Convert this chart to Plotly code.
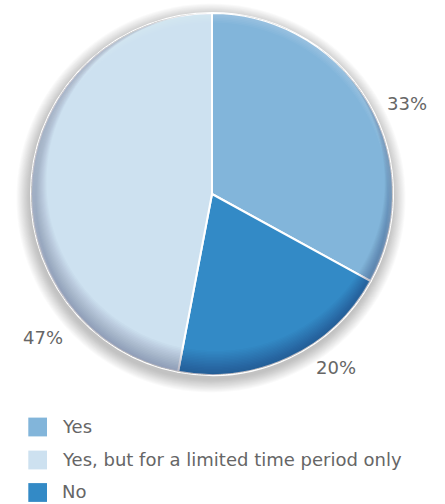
import math
import plotly.graph_objects as go

# ---- Data ----
categories = ["Yes", "No", "Yes, but for a limited time period only"]
values = [33, 20, 47]
colors = ["#82b5da", "#338ac6", "#cde1f0"]
legend_order = ["Yes", "Yes, but for a limited time period only", "No"]
# label placement: angle (deg, clockwise from 12 o'clock) and distance as multiple of radius
label_angles = [65.2, 144.5, 229.6]
label_radius = [1.187, 1.18, 1.227]

# ---- Geometry (pixels) ----
W, H = 445, 504
cx, cy, R = 212, 194, 181
FONT = "DejaVu Sans"
TXT = "#666666"


def px(x):
    return x / W


def py(y):
    return 1 - y / H


def circle_path(x0, y0, r, n=180):
    pts = []
    for i in range(n):
        t = 2 * math.pi * i / n
        pts.append(f"{px(x0 + r * math.cos(t)):.5f},{py(y0 + r * math.sin(t)):.5f}")
    return "M" + " L".join(pts) + " Z"


fig = go.Figure()

# soft drop shadow (below the pie)
for k in range(1, 17):
    r = R + 0.85 * k
    fig.add_shape(type="circle", xref="paper", yref="paper", layer="below",
                  x0=px(cx - 1 - r), x1=px(cx - 1 + r), y0=py(cy + 4 + r), y1=py(cy + 4 - r),
                  fillcolor="rgba(40,40,40,0.02)", line=dict(width=0))

fig.add_trace(go.Pie(
    labels=categories, values=values, sort=False, direction="clockwise",
    rotation=0, marker=dict(colors=colors, line=dict(color="white", width=2)),
    textinfo="none", hoverinfo="label+percent", showlegend=False,
    domain=dict(x=[px(cx - R), px(cx + R)], y=[py(cy + R), py(cy - R)]),
))

# inner rim shading (darker toward bottom-left, lighter at top)
outer = circle_path(cx, cy, R)
for k in range(1, 17):
    d = 0.75 * k
    inner = circle_path(cx + 0.3 * d, cy - d, R - d)
    fig.add_shape(type="path", xref="paper", yref="paper", layer="above",
                  path=outer + " " + inner, fillrule="evenodd",
                  fillcolor="rgba(0,20,40,0.02)", line=dict(width=0))
for k in range(1, 7):
    d = 0.8 * k
    inner = circle_path(cx, cy + d, R - d)
    fig.add_shape(type="path", xref="paper", yref="paper", layer="above",
                  path=outer + " " + inner, fillrule="evenodd",
                  fillcolor="rgba(255,255,255,0.04)", line=dict(width=0))

# percentage labels
total = sum(values)
for v, a, rf in zip(values, label_angles, label_radius):
    rad = math.radians(a)
    lx = cx + R * rf * math.sin(rad)
    ly = cy - R * rf * math.cos(rad)
    fig.add_annotation(x=px(lx), y=py(ly), xref="paper", yref="paper",
                       text=f"{round(v / total * 100)}%", showarrow=False,
                       xanchor="center", yanchor="middle",
                       font=dict(size=18, color=TXT, family=FONT))

# legend (drawn manually)
cmap = dict(zip(categories, colors))
row_y = [427, 460, 492.5]
for name, yy in zip(legend_order, row_y):
    fig.add_shape(type="rect", xref="paper", yref="paper",
                  x0=px(28.3), x1=px(47), y0=py(yy + 9.4), y1=py(yy - 9.4),
                  fillcolor=cmap[name], line=dict(width=0))
    fig.add_annotation(x=px(60), y=py(yy - 1), xref="paper", yref="paper",
                       text=name, showarrow=False, xanchor="left", yanchor="middle",
                       font=dict(size=18, color=TXT, family=FONT))

fig.update_layout(
    width=W, height=H, margin=dict(l=0, r=0, t=0, b=0),
    paper_bgcolor="white", plot_bgcolor="white",
    xaxis=dict(visible=False), yaxis=dict(visible=False),
    showlegend=False,
)

fig.write_html("out.html", config={"displayModeBar": False},
               post_script="document.body.style.margin='0';")
